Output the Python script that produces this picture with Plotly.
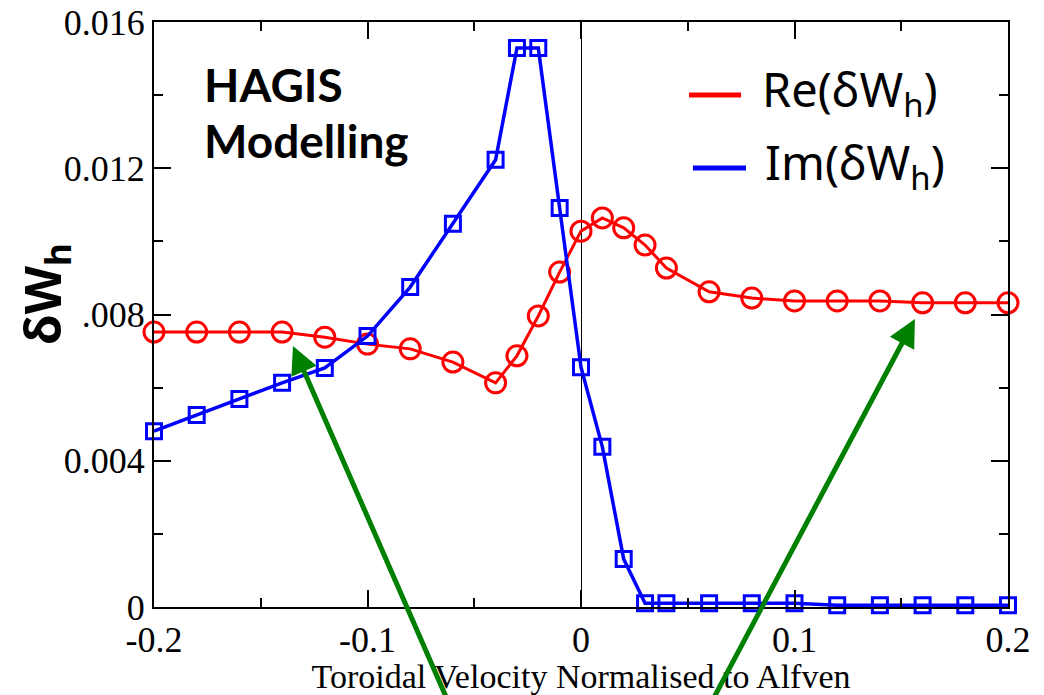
import plotly.graph_objects as go

# Toroidal velocity (normalised to Alfven speed)
velocity = [-0.2, -0.18, -0.16, -0.14, -0.12, -0.1, -0.08, -0.06, -0.04, -0.03,
            -0.02, -0.01, 0.0, 0.01, 0.02, 0.03, 0.04, 0.06, 0.08, 0.1,
            0.12, 0.14, 0.16, 0.18, 0.2]

# Real part of delta W_h
re_dwh = [0.00752, 0.00752, 0.00752, 0.00752, 0.00738, 0.00719, 0.00706, 0.00670, 0.00613, 0.00687,
          0.00796, 0.00916, 0.01028, 0.01064, 0.01037, 0.00990, 0.00927, 0.00862, 0.00845, 0.00837,
          0.00837, 0.00837, 0.00832, 0.00832, 0.00832]

# Imaginary part of delta W_h
im_dwh = [0.00481, 0.00525, 0.00569, 0.00613, 0.00654, 0.00741, 0.00875, 0.01048, 0.01223, 0.01529,
          0.01529, 0.01091, 0.00656, 0.00438, 0.00131, 0.00010, 0.00010, 0.00010, 0.00010, 0.00010,
          0.00005, 0.00005, 0.00005, 0.00005, 0.00005]

x_tick_vals = [-0.2, -0.1, 0.0, 0.1, 0.2]
x_tick_text = ["-0.2", "-0.1", "0", "0.1", "0.2"]
y_tick_vals = [0.0, 0.004, 0.008, 0.012, 0.016]
y_tick_text = ["0", "0.004", "0.008", "0.012", "0.016"]

# Arrows pointing at the two asymptotic regions: (tip_x, tip_y, tail_x, tail_y)
arrows = [(-0.1349, 0.00714, -0.0585, -0.00309),
          (0.1564, 0.00788, 0.0567, -0.00309)]

RED = "#ff0000"
BLUE = "#0000ff"
GREEN = "#008000"

fig = go.Figure()

fig.add_trace(go.Scatter(
    x=velocity, y=re_dwh, mode="lines+markers", name="Re(δW<sub>h</sub>)",
    line=dict(color=RED, width=3),
    marker=dict(symbol="circle-open", size=20, color=RED, line=dict(width=3, color=RED)),
    cliponaxis=False, showlegend=False,
))
fig.add_trace(go.Scatter(
    x=velocity, y=im_dwh, mode="lines+markers", name="Im(δW<sub>h</sub>)",
    line=dict(color=BLUE, width=3.5),
    marker=dict(symbol="square-open", size=15, color=BLUE, line=dict(width=3, color=BLUE)),
    cliponaxis=False, showlegend=False,
))

tick_font = dict(family="Liberation Serif", size=36, color="black")

fig.update_xaxes(
    range=[-0.2, 0.2], tickvals=x_tick_vals, ticktext=x_tick_text,
    ticks="inside", ticklen=17, tickwidth=1.5, tickcolor="black",
    minor=dict(dtick=0.05, ticks="inside", ticklen=9, tickwidth=1.5, tickcolor="black"),
    showline=True, linecolor="black", linewidth=2, mirror="ticks",
    showgrid=False, zeroline=True, zerolinecolor="black", zerolinewidth=1,
    tickfont=tick_font, automargin=False,
    title=dict(text="Toroidal Velocity Normalised to Alfven",
               font=dict(family="Liberation Serif", size=34, color="black"), standoff=6),
)
fig.update_yaxes(
    range=[0, 0.016], tickvals=y_tick_vals, ticktext=y_tick_text,
    ticks="inside", ticklen=17, tickwidth=1.5, tickcolor="black",
    minor=dict(dtick=0.002, ticks="inside", ticklen=9, tickwidth=1.5, tickcolor="black"),
    showline=True, linecolor="black", linewidth=2, mirror="ticks",
    showgrid=False, zeroline=False,
    tickfont=tick_font, automargin=False,
)

annotations = [
    # y-axis label with a white box
    dict(text="<b>δW<sub>h</sub></b>", xref="paper", yref="paper",
         x=-0.128, y=0.535, textangle=-90, showarrow=False,
         font=dict(family="Noto Sans", size=50, color="black"),
         bgcolor="white", borderpad=1, xanchor="center", yanchor="middle"),
    dict(text="<b>HAGIS</b>", xref="paper", yref="paper", x=0.056, y=0.894,
         showarrow=False, xanchor="left", yanchor="middle",
         font=dict(family="Lato", size=46, color="black")),
    dict(text="<b>Modelling</b>", xref="paper", yref="paper", x=0.056, y=0.797,
         showarrow=False, xanchor="left", yanchor="middle",
         font=dict(family="Lato", size=46, color="black")),
    dict(text="Re(δW<sub>h</sub>)", xref="paper", yref="paper", x=0.710, y=0.880,
         showarrow=False, xanchor="left", yanchor="middle",
         font=dict(family="Noto Sans", size=47, color="black")),
    dict(text="Im(δW<sub>h</sub>)", xref="paper", yref="paper", x=0.713, y=0.755,
         showarrow=False, xanchor="left", yanchor="middle",
         font=dict(family="Noto Sans", size=47, color="black")),
]
for tx, ty, sx, sy in arrows:
    annotations.append(dict(
        x=tx, y=ty, ax=sx, ay=sy, xref="x", yref="y", axref="x", ayref="y",
        text="", showarrow=True, arrowhead=2, arrowsize=1.1, arrowwidth=5,
        arrowcolor=GREEN,
    ))

shapes = [
    dict(type="line", xref="paper", yref="paper", x0=0.6265, x1=0.6874, y0=0.8752, y1=0.8752,
         line=dict(color=RED, width=5)),
    dict(type="line", xref="paper", yref="paper", x0=0.6311, x1=0.6932, y0=0.7504, y1=0.7504,
         line=dict(color=BLUE, width=5)),
]

fig.update_layout(
    width=1044, height=695,
    margin=dict(l=154, r=36, t=22, b=88),
    paper_bgcolor="white", plot_bgcolor="white",
    annotations=annotations, shapes=shapes,
    showlegend=False,
)

fig.write_html("out.html")
